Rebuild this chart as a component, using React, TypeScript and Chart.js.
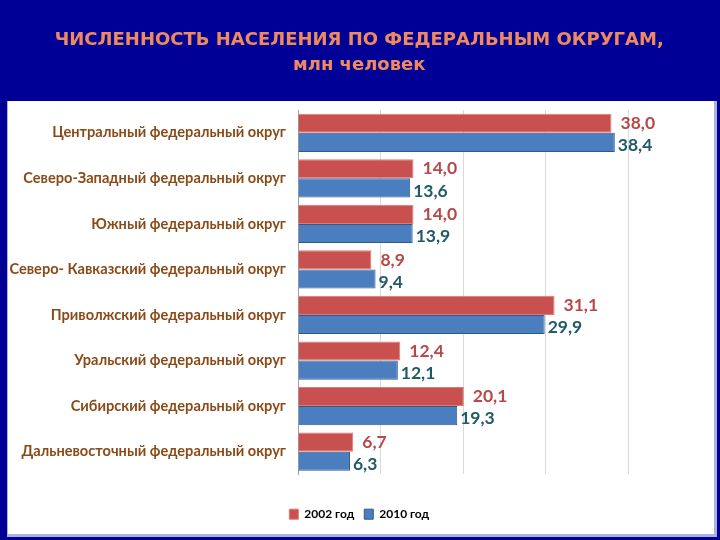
import React, { useEffect, useRef } from "react";
import { Chart, registerables } from "chart.js";

Chart.register(...registerables);

const categories = [
  "Центральный федеральный округ",
  "Северо-Западный федеральный округ",
  "Южный федеральный округ",
  "Северо- Кавказский федеральный округ",
  "Приволжский федеральный округ",
  "Уральский федеральный округ",
  "Сибирский федеральный округ",
  "Дальневосточный федеральный округ",
];
const values2002 = [38.0, 14.0, 14.0, 8.9, 31.1, 12.4, 20.1, 6.7];
const values2010 = [38.4, 13.6, 13.9, 9.4, 29.9, 12.1, 19.3, 6.3];
const seriesNames = ["2002 год", "2010 год"];
const titleLines = ["ЧИСЛЕННОСТЬ НАСЕЛЕНИЯ ПО ФЕДЕРАЛЬНЫМ ОКРУГАМ,", "млн человек"];

const NAVY = "#000096";
const RED = "#C8504F";
const BLUE = "#4A7EBF";
const RED_LABEL = "#B84848";
const BLUE_LABEL = "#1F5A66";

const backgroundPlugin = {
  id: "slideBackground",
  beforeDraw(chart: any) {
    const { ctx, width, height } = chart;
    ctx.save();
    ctx.fillStyle = NAVY;
    ctx.fillRect(0, 0, width, height);
    ctx.fillStyle = "#A9B4DA";
    ctx.fillRect(7, 101, 710, 436);
    ctx.fillStyle = "#FFFFFF";
    ctx.fillRect(8, 101, 706, 433);
    ctx.restore();
  },
};

const valueLabelPlugin = {
  id: "valueLabels",
  afterDatasetsDraw(chart: any) {
    const { ctx } = chart;
    ctx.save();
    ctx.font = "bold 17.5px Lato";
    ctx.textBaseline = "middle";
    ctx.textAlign = "left";
    chart.data.datasets.forEach((ds: any, di: number) => {
      const meta = chart.getDatasetMeta(di);
      ctx.fillStyle = di === 0 ? RED_LABEL : BLUE_LABEL;
      meta.data.forEach((bar: any, i: number) => {
        const v = ds.data[i] as number;
        const txt = v.toFixed(1).replace(".", ",");
        const offset = di === 0 ? 9 : 3;
        ctx.fillText(txt, bar.x + offset, bar.y + (di === 0 ? 0 : 3));
      });
    });
    ctx.restore();
  },
};

export default function App() {
  const ref = useRef<HTMLCanvasElement | null>(null);
  useEffect(() => {
    document.body.style.margin = "0";
    const canvas = ref.current!;
    const chart = new Chart(canvas, {
      type: "bar",
      data: {
        labels: categories,
        datasets: [
          {
            label: seriesNames[0],
            data: values2002,
            backgroundColor: RED,
            borderColor: "#E07A78",
            borderWidth: 1,
            categoryPercentage: 0.84,
            barPercentage: 1.0,
          },
          {
            label: seriesNames[1],
            data: values2010,
            backgroundColor: BLUE,
            borderColor: "#2E5A88",
            borderWidth: 1,
            categoryPercentage: 0.84,
            barPercentage: 1.0,
          },
        ],
      },
      options: {
        indexAxis: "y",
        animation: false,
        responsive: false,
        layout: { padding: { left: 8, right: 9.5, top: 0, bottom: 9.8 } },
        scales: {
          x: {
            min: 0,
            max: 50,
            ticks: { display: false, stepSize: 10 },
            grid: {
              color: (c: any) => (c.tick && c.tick.value === 50 ? "rgba(0,0,0,0)" : "#D9D9D9"),
              drawTicks: false,
            },
            border: { display: false },
            afterFit(scale: any) {
              scale.height = 23.8;
            },
          },
          y: {
            ticks: {
              color: "#8A4A18",
              font: { family: "Lato", weight: "bold", size: 14.6 },
              padding: 12,
            },
            grid: { display: false, drawTicks: false },
            border: { display: true, color: "#A0A0A0" },
            afterFit(scale: any) {
              scale.width = 290;
            },
          },
        },
        plugins: {
          title: {
            display: true,
            text: titleLines,
            color: "#F08A5E",
            font: { family: "DejaVu Sans", weight: "bold", size: 18, lineHeight: 1.389 },
            padding: { top: 28, bottom: 32 },
          },
          legend: {
            position: "bottom",
            labels: {
              boxWidth: 9,
              boxHeight: 10,
              color: "#000000",
              font: { family: "Lato", weight: "bold", size: 12 },
              padding: 10,
            },
          },
          tooltip: { enabled: false },
        },
      },
      plugins: [backgroundPlugin, valueLabelPlugin],
    });
    return () => chart.destroy();
  }, []);
  return <canvas ref={ref} width={720} height={540} style={{ display: "block" }} />;
}
